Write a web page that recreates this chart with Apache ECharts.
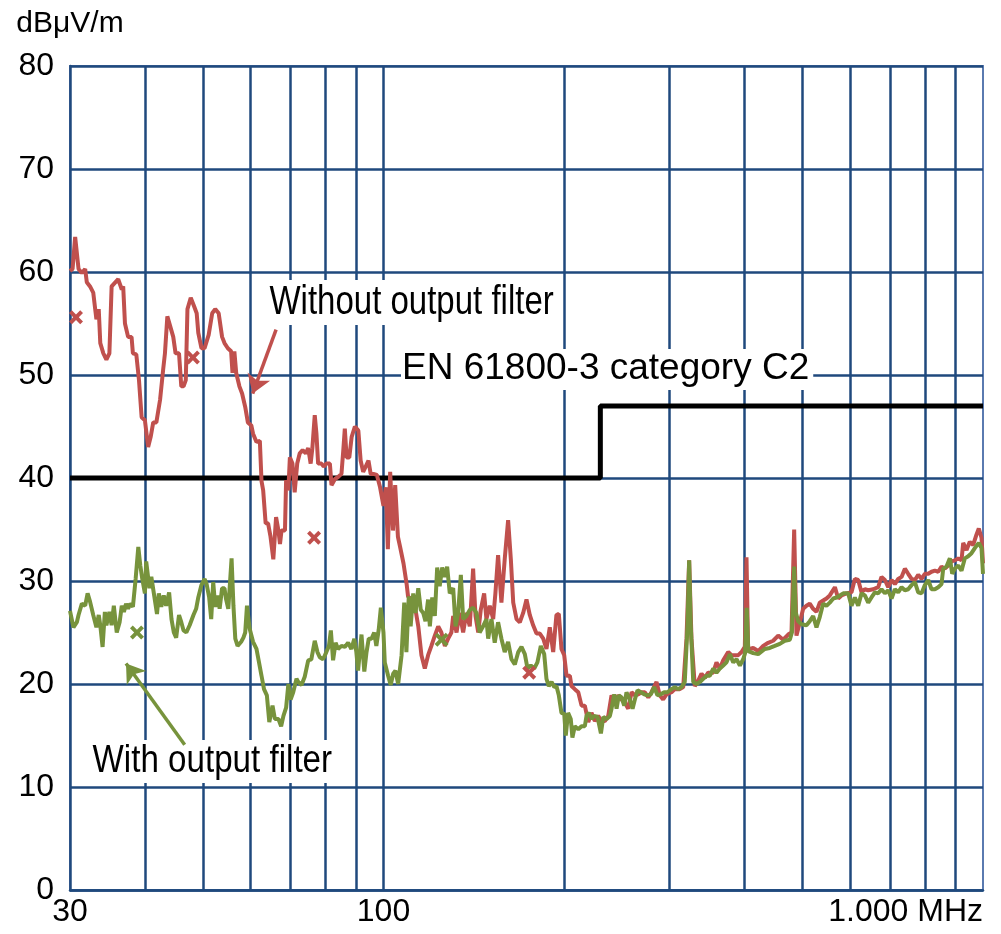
<!DOCTYPE html>
<html>
<head>
<meta charset="utf-8">
<script src="https://cdn.jsdelivr.net/npm/echarts@6/dist/echarts.min.js"></script>
<style>
  html, body { margin: 0; padding: 0; background: #ffffff; }
  #chart { width: 1001px; height: 934px; }
</style>
</head>
<body>
<div id="chart"></div>
<script>
// radiated emission, MHz vs dBuV/m
var withoutFilter = [
  [30,60.1],[30.3,60.3],[30.6,63.4],[31.0,60.3],[31.4,59.9],[31.8,60.3],[32.0,59.0],[32.4,58.6],[32.8,58.0],[33.2,55.4],
  [33.5,56.4],[33.7,53.1],[34.1,52.1],[34.5,51.5],[34.9,52.1],[35.2,58.6],[35.7,59.0],[36.1,59.3],[36.6,58.3],[36.8,58.6],
  [37.05,55.0],[37.5,53.7],[38.0,53.7],[38.2,52.1],[38.7,52.0],[39.1,49.5],[39.5,45.9],[40.0,45.6],[40.5,43.0],[40.9,44.0],
  [41.3,45.4],[41.8,45.4],[42.4,47.6],[42.9,50.5],[43.2,52.1],[43.6,55.7],[44.1,54.7],[44.6,53.7],[45.0,52.1],[45.6,52.1],
  [46.0,48.9],[46.4,48.9],[46.8,49.5],[47.1,56.4],[47.7,57.5],[48.3,56.7],[48.8,56.0],[49.1,54.1],[49.7,52.6],[50.3,52.6],
  [50.6,53.1],[51.1,53.9],[51.8,56.0],[52.4,56.4],[53.1,56.0],[53.8,53.7],[54.3,53.1],[55.0,52.6],[55.7,52.3],[56.0,50.2],
  [56.4,52.3],[56.8,50.2],[57.5,48.9],[58.1,48.2],[58.8,46.9],[59.4,45.4],[60.2,45.1],[60.6,44.3],[61.4,43.5],[62.2,43.6],
  [62.6,39.7],[63.0,38.8],[63.6,35.6],[64.2,35.6],[64.8,34.3],[65.5,32.1],[66.2,36.2],[66.8,34.9],[67.2,33.6],[67.6,34.9],
  [68.5,34.9],[68.8,39.8],[69.4,38.8],[69.8,42.0],[70.5,41.4],[71.1,38.6],[71.8,41.4],[72.5,42.4],[73.3,42.7],[74.2,42.4],
  [74.9,42.9],[75.6,41.4],[76.1,42.9],[76.8,46.1],[77.3,44.3],[77.8,41.4],[78.8,41.4],[79.5,41.1],[80.3,41.4],[81.4,41.4],
  [81.9,39.3],[83.0,39.9],[84.0,40.1],[85.1,40.4],[85.7,42.7],[86.2,44.8],[86.8,42.0],[87.7,42.0],[88.5,44.0],[89.6,45.0],
  [90.8,44.6],[91.6,41.7],[92.5,40.6],[93.4,41.1],[94.4,41.7],[95.2,40.4],[96.2,40.4],[97.5,40.3],[98.7,39.1],[100.0,37.3],
  [100.9,39.1],[101.7,33.1],[102.6,40.6],[103.7,34.9],[104.6,39.3],[105.7,34.3],[106.6,33.3],[108.0,31.7],[109.3,29.7],[109.9,28.5],
  [111.4,28.2],[112.8,27.6],[114.3,25.6],[115.7,22.8],[117.2,21.5],[118.7,22.8],[120.2,23.7],[121.8,24.7],[123.4,25.6],[124.9,25.0],
  [126.6,23.7],[128.2,24.4],[129.8,25.0],[130.7,26.6],[132.4,25.0],[134.0,26.9],[135.8,25.0],[137.5,26.9],[139.3,25.6],[141.1,31.2],
  [142.4,26.6],[143.9,25.0],[145.3,27.2],[147.2,28.8],[148.5,26.3],[150.4,27.6],[152.4,26.3],[153.7,28.8],[155.3,32.5],[157.3,27.9],
  [159.3,32.1],[161.4,35.9],[163.1,32.1],[164.6,27.9],[166.7,26.3],[168.8,26.0],[171.0,26.9],[173.2,28.2],[175.4,26.7],[177.7,25.7],
  [180.0,24.9],[182.3,24.9],[184.7,24.4],[187.0,23.4],[189.4,25.5],[191.9,23.1],[194.3,26.7],[196.1,26.8],[198.1,23.4],[200.2,22.8],
  [202.0,20.8],[204.6,20.8],[205.9,19.8],[208.5,19.5],[211.3,19.2],[214.0,17.9],[216.7,17.9],[219.6,16.3],[222.3,17.2],[225.2,16.4],
  [228.1,16.9],[231.1,16.4],[234.0,16.4],[237.1,16.9],[240.1,18.9],[243.2,18.2],[246.4,18.9],[249.5,18.5],[252.7,18.2],[256.0,17.6],
  [259.3,19.2],[262.6,18.9],[266.1,19.0],[269.5,19.2],[272.9,19.2],[276.5,18.7],[279.9,19.2],[285.4,20.2],[288.9,18.9],[292.7,18.5],
  [296.5,19.0],[302.3,19.2],[306.1,19.5],[312.1,19.5],[316.2,19.7],[320.2,24.4],[323.5,32.0],[326.4,24.4],[330.6,19.8],[334.9,20.3],
  [339.2,21.0],[343.6,20.6],[348.0,21.1],[354.8,21.1],[359.3,22.1],[364.0,21.5],[368.7,22.3],[375.8,23.1],[380.6,22.8],[385.5,22.8],
  [390.6,22.8],[395.6,23.1],[400.6,23.6],[403.2,32.3],[405.8,23.1],[408.3,23.4],[413.7,23.5],[421.7,23.2],[429.9,23.7],[438.2,24.0],
  [446.7,24.2],[455.4,24.7],[464.2,24.3],[473.2,24.8],[479.3,25.0],[484.2,35.0],[488.5,24.7],[494.9,26.0],[501.2,27.3],[507.6,27.6],
  [514.1,27.8],[520.8,27.3],[527.5,27.0],[534.2,27.9],[541.2,28.1],[548.2,28.3],[555.2,28.6],[566.2,29.4],[573.4,28.3],[580.8,28.6],
  [592.0,28.8],[603.5,28.9],[611.3,30.2],[619.2,30.1],[627.1,28.9],[635.3,29.2],[643.5,29.1],[655.9,29.2],[668.7,29.4],[677.2,30.4],
  [686.0,30.1],[694.8,29.4],[703.8,30.1],[712.9,29.7],[722.0,30.2],[731.4,30.4],[740.8,31.2],[750.3,30.7],[760.0,30.2],[769.8,30.1],
  [779.7,30.6],[789.8,30.2],[799.9,30.7],[810.3,30.7],[820.6,30.9],[831.3,31.0],[842.0,30.9],[852.8,31.4],[863.8,31.2],[874.9,31.5],
  [886.2,31.9],[897.5,32.0],[909.2,32.2],[920.8,32.0],[926.8,33.7],[938.7,33.0],[950.6,33.8],[963.0,33.5],[975.2,34.5],[984.0,35.1],
  [994.3,34.2],[1000,31.7]
];

var withFilter = [
  [30.0,27.1],[30.4,25.5],[30.8,26.0],[31.0,26.7],[31.4,27.8],[31.8,27.6],[32.1,28.8],[32.4,28.0],[32.8,26.7],[33.2,25.5],
  [33.5,26.7],[33.7,25.7],[34.0,23.6],[34.3,27.0],[34.5,25.7],[34.9,27.0],[35.2,25.7],[35.5,27.6],[35.9,25.0],[36.3,26.0],
  [36.6,27.6],[36.9,27.0],[37.2,27.8],[37.5,27.3],[37.8,27.8],[38.2,27.5],[38.6,30.2],[39.0,33.3],[39.3,31.5],[39.6,30.2],
  [40.0,28.8],[40.2,31.9],[40.7,29.3],[41.0,30.4],[41.3,30.4],[41.6,28.0],[41.9,26.8],[42.2,28.8],[42.6,27.5],[43.0,28.6],
  [43.4,27.6],[43.9,28.9],[44.3,26.3],[44.7,25.0],[45.1,24.5],[45.6,26.7],[46.0,26.0],[46.4,25.2],[46.9,25.0],[47.5,25.7],
  [48.2,26.7],[48.7,27.3],[49.1,28.4],[49.7,29.6],[50.3,30.2],[50.7,29.7],[51.2,28.4],[51.6,26.3],[52.0,29.9],[52.4,27.5],
  [52.9,28.6],[53.3,27.3],[53.8,29.3],[54.3,29.3],[54.6,28.3],[55.1,27.3],[55.8,32.2],[56.2,27.6],[56.6,24.4],[57.1,23.7],
  [57.9,24.1],[58.4,24.5],[58.8,25.0],[59.2,27.6],[59.8,25.4],[60.6,24.1],[61.4,23.4],[62.0,22.1],[62.6,20.8],[63.2,19.5],
  [63.9,18.9],[64.5,16.3],[65.3,17.9],[65.9,16.6],[66.8,16.6],[67.5,15.9],[68.1,16.9],[68.8,17.7],[69.4,20.0],[70.0,18.5],
  [70.7,19.2],[71.6,20.5],[72.1,20.2],[73.0,19.9],[73.9,20.7],[74.9,22.3],[75.8,22.4],[76.8,24.2],[77.6,23.1],[78.3,22.6],
  [79.3,22.4],[80.3,23.1],[81.1,23.7],[81.7,25.2],[82.4,22.3],[83.2,24.0],[84.0,23.4],[85.1,23.7],[86.2,23.6],[87.3,24.0],
  [88.4,23.4],[89.4,24.4],[90.1,23.1],[90.7,21.3],[91.9,24.8],[92.9,21.2],[93.7,23.1],[94.5,24.4],[95.5,24.4],[96.5,25.0],
  [97.3,23.7],[98.2,25.3],[99.0,27.4],[100.0,25.0],[100.5,22.1],[101.8,20.8],[102.8,19.9],[103.8,21.0],[104.7,21.3],[105.8,20.0],
  [107.2,22.8],[108.3,27.9],[109.2,23.1],[110.2,28.5],[111.0,25.6],[112.1,28.8],[113.1,26.9],[114.3,29.3],[115.4,27.2],[116.5,26.9],
  [117.5,26.1],[118.7,28.2],[119.5,25.6],[120.6,28.4],[121.8,26.6],[122.9,31.3],[124.1,29.5],[125.3,31.3],[126.6,30.4],[127.7,31.4],
  [129.0,28.8],[130.7,29.3],[131.9,25.6],[133.2,26.9],[134.6,30.6],[135.8,26.3],[137.5,26.6],[139.3,27.2],[141.1,27.4],[142.9,26.9],
  [144.7,25.0],[146.6,25.6],[148.5,26.3],[149.5,24.4],[151.4,26.3],[153.3,24.0],[155.3,26.0],[157.3,24.4],[159.3,23.1],[161.4,24.1],
  [163.5,22.4],[165.6,21.9],[167.8,23.1],[169.9,23.6],[172.1,22.9],[173.9,21.5],[176.1,21.8],[178.4,21.5],[180.6,22.1],[183.0,23.7],
  [185.4,22.9],[187.0,20.5],[188.7,19.8],[190.7,20.2],[192.7,19.7],[194.3,19.8],[196.1,18.9],[198.1,17.2],[200.2,17.1],[201.4,15.0],
  [203.2,17.2],[205.3,16.6],[206.6,14.8],[208.5,15.9],[211.3,15.6],[214.0,15.9],[216.7,15.9],[218.1,16.9],[220.1,17.2],[222.3,16.6],
  [224.6,16.9],[227.5,16.8],[230.5,15.2],[232.6,16.8],[235.6,16.6],[238.6,16.9],[240.1,17.6],[242.6,19.0],[244.8,17.6],[246.9,18.9],
  [249.5,18.7],[252.1,17.9],[254.3,19.2],[257.6,18.5],[260.3,17.6],[262.6,18.5],[265.3,19.4],[268.7,19.2],[272.2,19.0],[275.7,18.9],
  [279.2,19.0],[282.8,19.7],[286.4,18.9],[290.1,19.0],[293.9,19.2],[297.6,19.2],[302.3,19.5],[306.1,19.7],[310.1,19.5],[314.1,19.7],
  [318.1,20.2],[321.5,25.7],[323.5,32.0],[325.5,25.7],[328.6,20.2],[332.8,20.0],[337.1,20.2],[341.5,20.5],[345.9,20.8],[350.3,20.8],
  [354.8,21.5],[359.3,21.1],[364.0,21.5],[368.7,21.8],[373.4,22.1],[378.2,22.9],[383.2,22.1],[388.1,22.4],[393.1,21.8],[398.1,22.4],
  [401.0,23.0],[403.5,27.4],[406.0,23.2],[413.7,23.0],[421.7,22.9],[432.5,23.4],[440.9,23.5],[449.5,23.7],[458.2,23.9],[467.1,24.2],
  [476.2,24.3],[480.0,25.0],[484.2,31.4],[487.0,27.0],[491.7,26.1],[498.1,25.8],[507.6,25.7],[514.1,26.1],[520.8,26.6],[527.5,25.5],
  [534.2,26.5],[541.2,27.8],[548.2,27.6],[555.2,27.9],[562.6,28.3],[569.7,28.4],[577.1,28.6],[584.6,28.8],[595.9,28.8],[603.5,27.6],
  [611.3,28.4],[619.2,27.6],[627.1,28.8],[635.3,28.6],[643.5,27.9],[651.6,28.4],[660.2,28.9],[668.7,28.8],[677.2,29.2],[686.0,28.8],
  [694.8,29.1],[703.8,28.3],[712.9,29.2],[722.0,28.9],[731.4,29.4],[740.8,29.1],[750.3,29.2],[760.0,29.6],[769.8,29.9],[779.7,28.9],
  [789.8,28.8],[799.9,29.6],[810.3,30.1],[820.6,29.2],[831.3,29.2],[842.0,29.4],[852.8,29.7],[858.3,31.2],[869.3,31.4],[880.5,32.2],
  [888.5,30.7],[897.5,31.2],[909.2,31.5],[920.8,31.0],[932.7,32.2],[944.7,32.4],[956.8,32.7],[969.1,33.2],[984.0,33.7],[994.3,33.2],
  [1000,30.7]
];

// EN 61800-3 C2 limit
var limitC2 = [[30,40],[230,40],[230,47],[1000,47]];

// quasi-peak crosses
var qpWithout = [[30.7,55.6],[48.1,51.7],[76.6,34.2],[175,21.1]];
var qpWith = [[38.8,25.0],[125,24.3]];

// vertical grid lines (MHz)
var gridFreqs = [40,50,60,70,80,90,100,200,300,400,500,600,700,800,900];

var redColor = "#C0504D";
var greenColor = "#77933C";
var gridColor = "#1F497D";
var regFont = '"Liberation Sans", Arial, sans-serif';
var crossPath = 'path://M2,0L5,3L8,0L10,2L7,5L10,8L8,10L5,7L2,10L0,8L3,5L0,2Z';

var chart = echarts.init(document.getElementById('chart'));

var option = {
  animation: false,
  backgroundColor: '#ffffff',
  grid: {
    left: 70, right: 18, top: 66, bottom: 44,
    show: true,
    borderColor: '#5A7AB0',
    borderWidth: 2
  },
  xAxis: {
    type: 'log',
    logBase: 10,
    min: 30,
    max: 1000,
    axisLine: { show: true, lineStyle: { color: gridColor, width: 2.5 } },
    axisTick: { show: false },
    splitLine: { show: false },
    axisLabel: {
      color: '#000',
      fontSize: 32,
      fontFamily: regFont,
      margin: 6,
      alignMaxLabel: 'right',
      formatter: function (v) {
        if (v >= 999) return '1.000 MHz';
        return String(Math.round(v));
      }
    }
  },
  yAxis: {
    type: 'value',
    min: 0,
    max: 80,
    interval: 10,
    name: 'dBμV/m',
    nameLocation: 'end',
    nameGap: 27,
    nameTextStyle: { color: '#000', fontSize: 30, fontFamily: regFont, align: 'center' },
    axisLine: { show: true, lineStyle: { color: gridColor, width: 2.5 } },
    axisTick: { show: false },
    splitLine: { show: true, lineStyle: { color: gridColor, width: 2.5 } },
    axisLabel: { color: '#000', fontSize: 32, fontFamily: regFont, margin: 16 }
  },
  series: [
    {
      name: 'EN 61800-3 category C2',
      type: 'line',
      data: limitC2,
      showSymbol: false,
      lineStyle: { color: '#000', width: 5 },
      z: 2,
      markLine: {
        z: 1,
        silent: true,
        symbol: 'none',
        label: { show: false },
        lineStyle: { color: gridColor, width: 2.5, type: 'solid' },
        data: gridFreqs.map(function (f) { return { xAxis: f }; })
      }
    },
    {
      name: 'Without output filter',
      type: 'line',
      data: withoutFilter,
      showSymbol: false,
      lineStyle: { color: redColor, width: 4 },
      z: 3,
      markLine: {
        z: 6,
        silent: true,
        symbol: ['none', 'arrow'],
        symbolSize: 18,
        label: { show: false },
        lineStyle: { color: redColor, width: 3.5, type: 'solid' },
        data: [[{ coord: [66.2, 54.4] }, { coord: [60.5, 48.2] }]]
      }
    },
    {
      name: 'With output filter',
      type: 'line',
      data: withFilter,
      showSymbol: false,
      lineStyle: { color: greenColor, width: 4 },
      z: 4,
      markLine: {
        z: 6,
        silent: true,
        symbol: ['none', 'arrow'],
        symbolSize: 18,
        label: { show: false },
        lineStyle: { color: greenColor, width: 3.5, type: 'solid' },
        data: [[{ coord: [46.6, 14.1] }, { coord: [37.2, 22.0] }]]
      }
    },
    {
      type: 'scatter',
      data: qpWithout,
      symbol: crossPath,
      symbolSize: 14,
      itemStyle: { color: redColor, opacity: 1 },
      z: 5
    },
    {
      type: 'scatter',
      data: qpWith,
      symbol: crossPath,
      symbolSize: 14,
      itemStyle: { color: greenColor, opacity: 1 },
      z: 5
    }
  ],
  graphic: [
    {
      type: 'text', x: 267, y: 280, scaleX: 0.805, z: 5,
      style: { text: 'Without output filter', fontSize: 41, fontFamily: regFont, fill: '#000', backgroundColor: '#fff', padding: [2, 3] }
    },
    {
      type: 'text', x: 401, y: 349, z: 5,
      style: { text: 'EN 61800-3 category C2', fontSize: 37, fontFamily: regFont, fill: '#000', backgroundColor: '#fff', padding: [1, 4, 3, 1] }
    },
    {
      type: 'text', x: 90, y: 740, scaleX: 0.85, z: 5,
      style: { text: 'With output filter', fontSize: 39, fontFamily: regFont, fill: '#000', backgroundColor: '#fff', padding: [2, 3] }
    }
  ]
};

chart.setOption(option);
window.addEventListener('resize', function () { chart.resize(); });
</script>
</body>
</html>
